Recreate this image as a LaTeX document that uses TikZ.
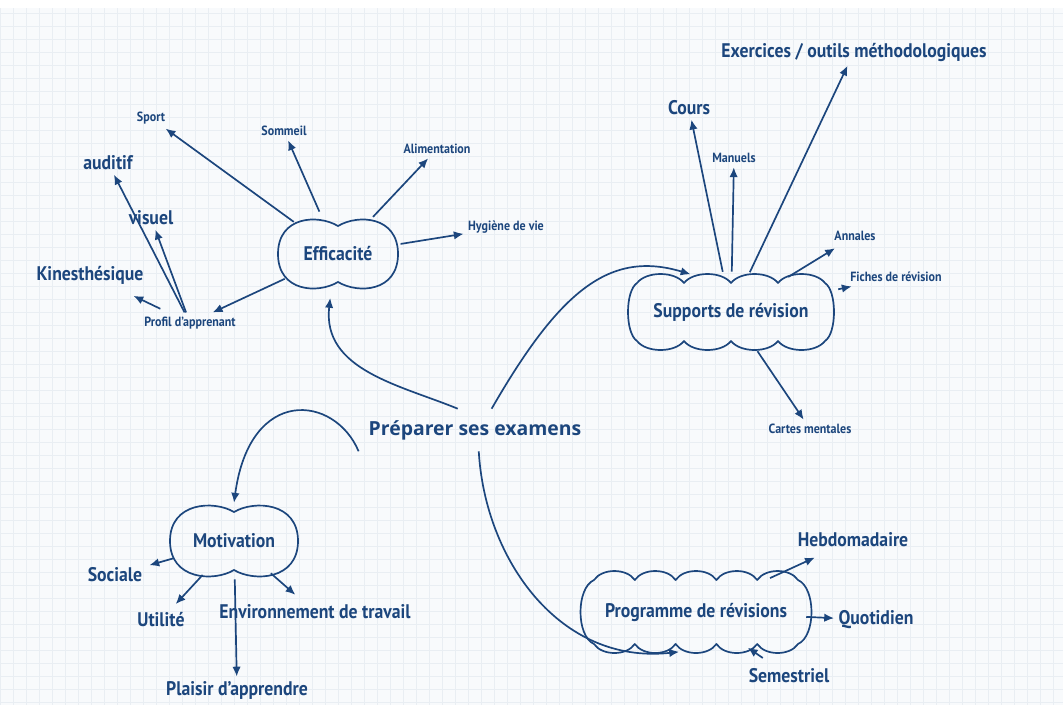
\documentclass[tikz,border=0pt]{standalone}
\usepackage{fontspec}
\setmainfont{PT Sans}[FakeStretch=0.9]
\newfontfamily\headfont{Open Sans}
\usetikzlibrary{shapes.geometric,arrows.meta}
\definecolor{ink}{RGB}{28,70,125}
\definecolor{paper}{RGB}{248,250,252}
\definecolor{rule}{RGB}{233,238,243}
\newcommand\puffy[5]{%
  \draw[ink,line width=1.2pt,line join=round,shift={(#1.center)}] (-#2,-#3)
    foreach \i in {1,...,#4} { .. controls +({0.4*#2/#4},-12) and +({-0.4*#2/#4},-12) .. ({-#2+2*#2*\i/#4},-#3) }
    .. controls +(#5,8) and +(#5,-8) .. (#2,#3)
    foreach \i in {1,...,#4} { .. controls +({-0.4*#2/#4},12) and +({0.4*#2/#4},12) .. ({#2-2*#2*\i/#4},#3) }
    .. controls +(-#5,-8) and +(-#5,8) .. (-#2,-#3) -- cycle;}
\newcommand\peanut[3]{%
  \draw[ink,line width=1.2pt,shift={(#1.center)}] (0,-#3)
    .. controls (-20,-#3-12) and (-#2,-#3-10) .. (-#2,0)
    .. controls (-#2,#3+10) and (-20,#3+12) .. (0,#3)
    .. controls (20,#3+12) and (#2,#3+10) .. (#2,0)
    .. controls (#2,-#3-10) and (20,-#3-12) .. (0,-#3) -- cycle;}

\begin{document}
\begin{tikzpicture}[x=0.025cm,y=-0.025cm,
  every node/.style={text=ink,inner sep=3pt},
  big/.style={font=\fontsize{14}{16}\selectfont\bfseries},
  small/.style={font=\fontsize{9.5}{11}\selectfont\bfseries},
  blob/.style={ellipse,font=\fontsize{14}{16}\selectfont\bfseries},
  link/.style={draw=ink,line width=1.2pt,-{Latex[length=7pt,width=6pt]}},
  centre/.style={font=\headfont\fontsize{13.8}{16}\selectfont\bfseries,inner xsep=7pt,inner ysep=8pt}]
  \useasboundingbox (0,0) rectangle (1063,705);
  \fill[white] (0,0) rectangle (1063,705);
  \fill[paper] (0,8) rectangle (1063,705);
  \draw[rule,step=0.325cm] (0,8) grid (1063,705);

  \node[centre] (prep) at (475,430) {Préparer ses examens};

  \node[blob,minimum width=3.2cm,minimum height=2.2cm] (eff) at (338,254) {Efficacité};
  \node[blob,minimum width=3.4cm,minimum height=1.9cm] (mot) at (234,541) {Motivation};
  \node[blob,minimum width=5.25cm,minimum height=2cm] (sup) at (731,312) {Supports de révision};
  \node[blob,inner xsep=-9pt,minimum height=2cm] (prog) at (696,612) {Programme de révisions};
  \peanut{eff}{60}{28}
  \peanut{mot}{64}{29}
  \puffy{sup}{94}{29}{4}{12}
  \puffy{prog}{102}{32}{5}{18}

  \node[small] (sport) at (151,118) {Sport};
  \node[small] (sommeil) at (284,131) {Sommeil};
  \node[small] (alim) at (437,149) {Alimentation};
  \node[small] (hyg) at (506,227) {Hygiène de vie};
  \node[small] (profil) at (190,323) {Profil d’apprenant};
  \node[big] (auditif) at (108,163) {auditif};
  \node[big] (visuel) at (151,218) {visuel};
  \node[big] (kin) at (90,275) {Kinesthésique};

  \node[big] (cours) at (689,108) {Cours};
  \node[small] (manuels) at (734,158) {Manuels};
  \node[big] (exo) at (854,52) {Exercices / outils méthodologiques};
  \node[small] (annales) at (855,236) {Annales};
  \node[small] (fiches) at (896,277) {Fiches de révision};
  \node[small] (cartes) at (810,429) {Cartes mentales};

  \node[big] (sociale) at (115,575) {Sociale};
  \node[big] (utilite) at (161,620) {Utilité};
  \node[big] (envt) at (315,612) {Environnement de travail};
  \node[big] (plaisir) at (237,690) {Plaisir d’apprendre};

  \node[big] (hebdo) at (853,540) {Hebdomadaire};
  \node[big] (quot) at (876,620) {Quotidien};
  \node[big] (sem) at (789,676) {Semestriel};

  \draw[link] (eff) -- (sport);
  \draw[link] (eff) -- (sommeil);
  \draw[link] (eff) -- (alim);
  \draw[link] (eff) -- (hyg);
  \draw[link] (eff) -- (profil);
  \draw[link] (profil) -- (auditif);
  \draw[link] (profil) -- (visuel);
  \draw[link,shorten <=6pt,shorten >=12pt] (profil) -- (kin);

  \draw[link] (sup) -- (cours);
  \draw[link] (sup) -- (manuels);
  \draw[link] (sup) -- (exo);
  \draw[link,shorten >=4pt] (sup) -- (annales);
  \draw[link,shorten <=6pt] (sup) -- (fiches);
  \draw[link] (sup) -- (cartes);

  \draw[link,shorten >=2pt] (mot) -- (sociale);
  \draw[link,shorten >=4pt] (mot) -- (utilite);
  \draw[link,shorten >=6pt] (mot) -- (envt);
  \draw[link] (mot) -- (plaisir);

  \draw[link,shorten <=4pt,shorten >=10pt] (prog) -- (hebdo);
  \draw[link] (prog) -- (quot);
  \draw[link,shorten <=8pt] (sem) -- (prog);

  \draw[link] (prep.129) .. controls (400,385) and (322,370) .. (eff.260);
  \draw[link] (prep.52) .. controls (560,290) and (610,250) .. (sup.137);
  \draw[link] (prep.south west) .. controls (335,395) and (250,385) .. (mot.north);
  \draw[link] (prep.-80) .. controls (485,560) and (560,665) .. (prog.247);
\end{tikzpicture}
\end{document}
